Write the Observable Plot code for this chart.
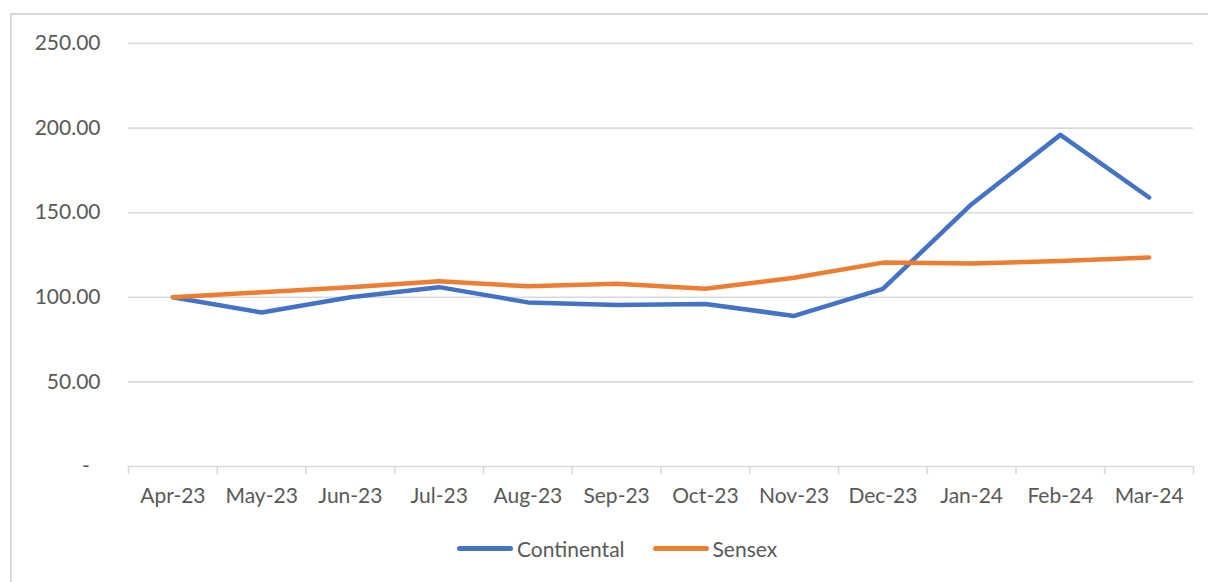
<!DOCTYPE html>
<html>
<head>
<meta charset="utf-8">
<script src="https://cdn.jsdelivr.net/npm/d3@7"></script>
<script src="https://cdn.jsdelivr.net/npm/@observablehq/plot@0.6"></script>
<style>
  body { margin: 0; background: #fff; font-family: Lato, sans-serif; }
  #wrap { position: relative; width: 1208px; height: 582px; overflow: hidden; }
  #frame { position: absolute; left: 10px; top: 13px; width: 1400px; height: 800px;
           border-top: 2px solid #d9d9d9; border-left: 2px solid #d9d9d9; }
  #chart { position: absolute; left: 0; top: 0; }
  #legend { position: absolute; left: 457px; top: 536px; display: flex; align-items: center;
            font-size: 21px; color: #595959; white-space: nowrap; }
  .sw { display: inline-block; width: 56px; height: 5px; border-radius: 3px; margin-right: 4px; }
  .item { display: flex; align-items: center; margin-right: 28px; }
</style>
</head>
<body>
<div id="wrap">
  <div id="frame"></div>
  <div id="chart"></div>
  <div id="legend"></div>
</div>
<script>
const months = ["Apr-23","May-23","Jun-23","Jul-23","Aug-23","Sep-23","Oct-23","Nov-23","Dec-23","Jan-24","Feb-24","Mar-24"];
const continental = [100, 91, 100, 106, 97, 95.5, 96, 89, 105, 155, 196, 159];
const sensex = [100, 103, 106, 109.5, 106.5, 108, 105, 111.5, 120.5, 120, 121.5, 123.5];
const seriesNames = ["Continental", "Sensex"];
const seriesColors = ["#4472C4", "#ED7D31"];
const yTicks = [0, 50, 100, 150, 200, 250];

const data = months.flatMap((m, i) => [
  {i, month: m, series: "Continental", value: continental[i]},
  {i, month: m, series: "Sensex", value: sensex[i]}
]);
const boundaries = d3.range(months.length + 1).map(k => k - 0.5);

const chart = Plot.plot({
  width: 1208,
  height: 520,
  marginLeft: 128,
  marginRight: 15,
  marginTop: 43,
  marginBottom: 54,
  style: {fontFamily: "Lato, sans-serif", fontSize: "21px", color: "#595959", background: "transparent"},
  x: {type: "linear", domain: [-0.5, months.length - 0.5], label: null},
  y: {domain: [0, 250], label: null},
  color: {domain: seriesNames, range: seriesColors},
  marks: [
    Plot.gridY(yTicks.filter(t => t > 0), {stroke: "#d9d9d9", strokeOpacity: 1, strokeWidth: 1.6}),
    Plot.ruleY([0], {stroke: "#d9d9d9", strokeWidth: 1.6}),
    Plot.axisX({ticks: boundaries, tickSize: 8, tickFormat: () => "", label: null, stroke: "#d9d9d9", strokeWidth: 1.6, strokeOpacity: 1}),
    Plot.axisX({ticks: d3.range(months.length), tickSize: 0, tickPadding: 22, label: null, tickFormat: i => months[i], fill: "#595959"}),
    Plot.axisY({ticks: yTicks, tickSize: 0, tickPadding: 28, label: null, fill: "#595959",
      tickFormat: d => d === 0 ? "-\u00a0\u00a0" : d.toFixed(2)}),
    Plot.line(data, {x: "i", y: "value", z: "series", stroke: "series", strokeWidth: 4.5,
      strokeLinecap: "round", strokeLinejoin: "round"})
  ]
});
document.getElementById("chart").appendChild(chart);

const legend = document.getElementById("legend");
seriesNames.forEach((name, k) => {
  const item = document.createElement("div");
  item.className = "item";
  const sw = document.createElement("span");
  sw.className = "sw";
  sw.style.background = seriesColors[k];
  item.appendChild(sw);
  item.appendChild(document.createTextNode(name));
  legend.appendChild(item);
});
</script>
</body>
</html>
